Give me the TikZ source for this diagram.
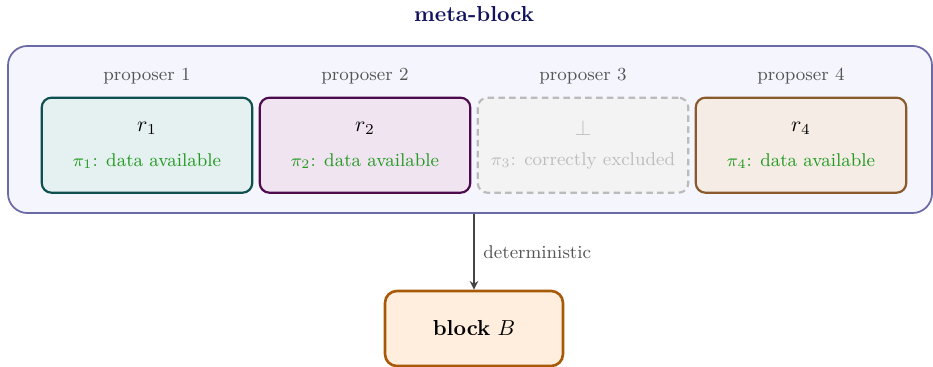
\documentclass[tikz,border=0pt]{standalone}
\usetikzlibrary{arrows.meta}
\definecolor{outerfill}{HTML}{F4F5FD}
\definecolor{outerdraw}{HTML}{6A6AA6}
\definecolor{titlecol}{HTML}{12125E}
\definecolor{tealfill}{HTML}{E5F1F0}
\definecolor{tealdraw}{HTML}{0E4F4F}
\definecolor{purpfill}{HTML}{F1E4F1}
\definecolor{purpdraw}{HTML}{4D0A4D}
\definecolor{grayfill}{HTML}{F3F3F3}
\definecolor{graydraw}{HTML}{BBBBBB}
\definecolor{graytext}{HTML}{BDBDBD}
\definecolor{brownfill}{HTML}{F5EDE5}
\definecolor{browndraw}{HTML}{8A5A2C}
\definecolor{greentext}{HTML}{229A22}
\definecolor{blockfill}{HTML}{FFEEDD}
\definecolor{blockdraw}{HTML}{A65A08}
\definecolor{labelcol}{HTML}{555555}
\definecolor{arrowcol}{HTML}{444444}
\tikzset{
  propbox/.style={rounded corners=4.5pt, line width=1pt, minimum width=97pt, minimum height=43.8pt, inner sep=0pt},
  smalltext/.style={font=\fontsize{8.5}{10}\selectfont},
  proplabel/.style={smalltext, text=labelcol},
  rlabel/.style={font=\normalsize},
  pilabel/.style={smalltext, text=greentext},
}
\begin{document}
\begin{tikzpicture}[x=0.4608pt, y=-0.4608pt]
\useasboundingbox (0,0) rectangle (933,367);
\node[font=\bfseries, text=titlecol] (title) at (474,14) {meta-block};
\node[draw=outerdraw, fill=outerfill, line width=0.8pt, rounded corners=9pt, minimum width=425.8pt, minimum height=77pt, inner sep=0pt] (outer) at (470,129.5) {};
\node[proplabel] (p1) at (147,76) {proposer 1};
\node[proplabel] (p2) at (365,76) {proposer 2};
\node[proplabel] (p3) at (583,76) {proposer 3};
\node[proplabel] (p4) at (801,76) {proposer 4};
\node[propbox, draw=tealdraw, fill=tealfill] (b1) at (147,145.2) {};
\node[propbox, draw=purpdraw, fill=purpfill] (b2) at (365,145.2) {};
\node[propbox, draw=graydraw, fill=grayfill, dashed, dash pattern=on 3pt off 2pt] (b3) at (583,145.2) {};
\node[propbox, draw=browndraw, fill=brownfill] (b4) at (801,145.2) {};
\node[rlabel] (r1) at (147,128) {$r_1$};
\node[rlabel] (r2) at (365,128) {$r_2$};
\node[rlabel, text=graytext] (r3) at (583,128) {$\perp$};
\node[rlabel] (r4) at (801,128) {$r_4$};
\node[pilabel] (pi1) at (147,161) {$\pi_1$: data available};
\node[pilabel] (pi2) at (365,161) {$\pi_2$: data available};
\node[pilabel, text=graytext] (pi3) at (583,161) {$\pi_3$: correctly excluded};
\node[pilabel] (pi4) at (801,161) {$\pi_4$: data available};
\node[draw=blockdraw, fill=blockfill, line width=1.2pt, rounded corners=5.5pt, minimum width=82pt, minimum height=34.6pt, inner sep=0pt] (B) at (474,328.5) {\textbf{block} $B$};
\draw[arrowcol, line width=0.7pt, -{Stealth[length=4pt,width=4pt]}] (outer.south -| B.north) -- node[right, smalltext, text=labelcol, inner sep=4pt] (det) {deterministic} (B.north);
\end{tikzpicture}
\end{document}
